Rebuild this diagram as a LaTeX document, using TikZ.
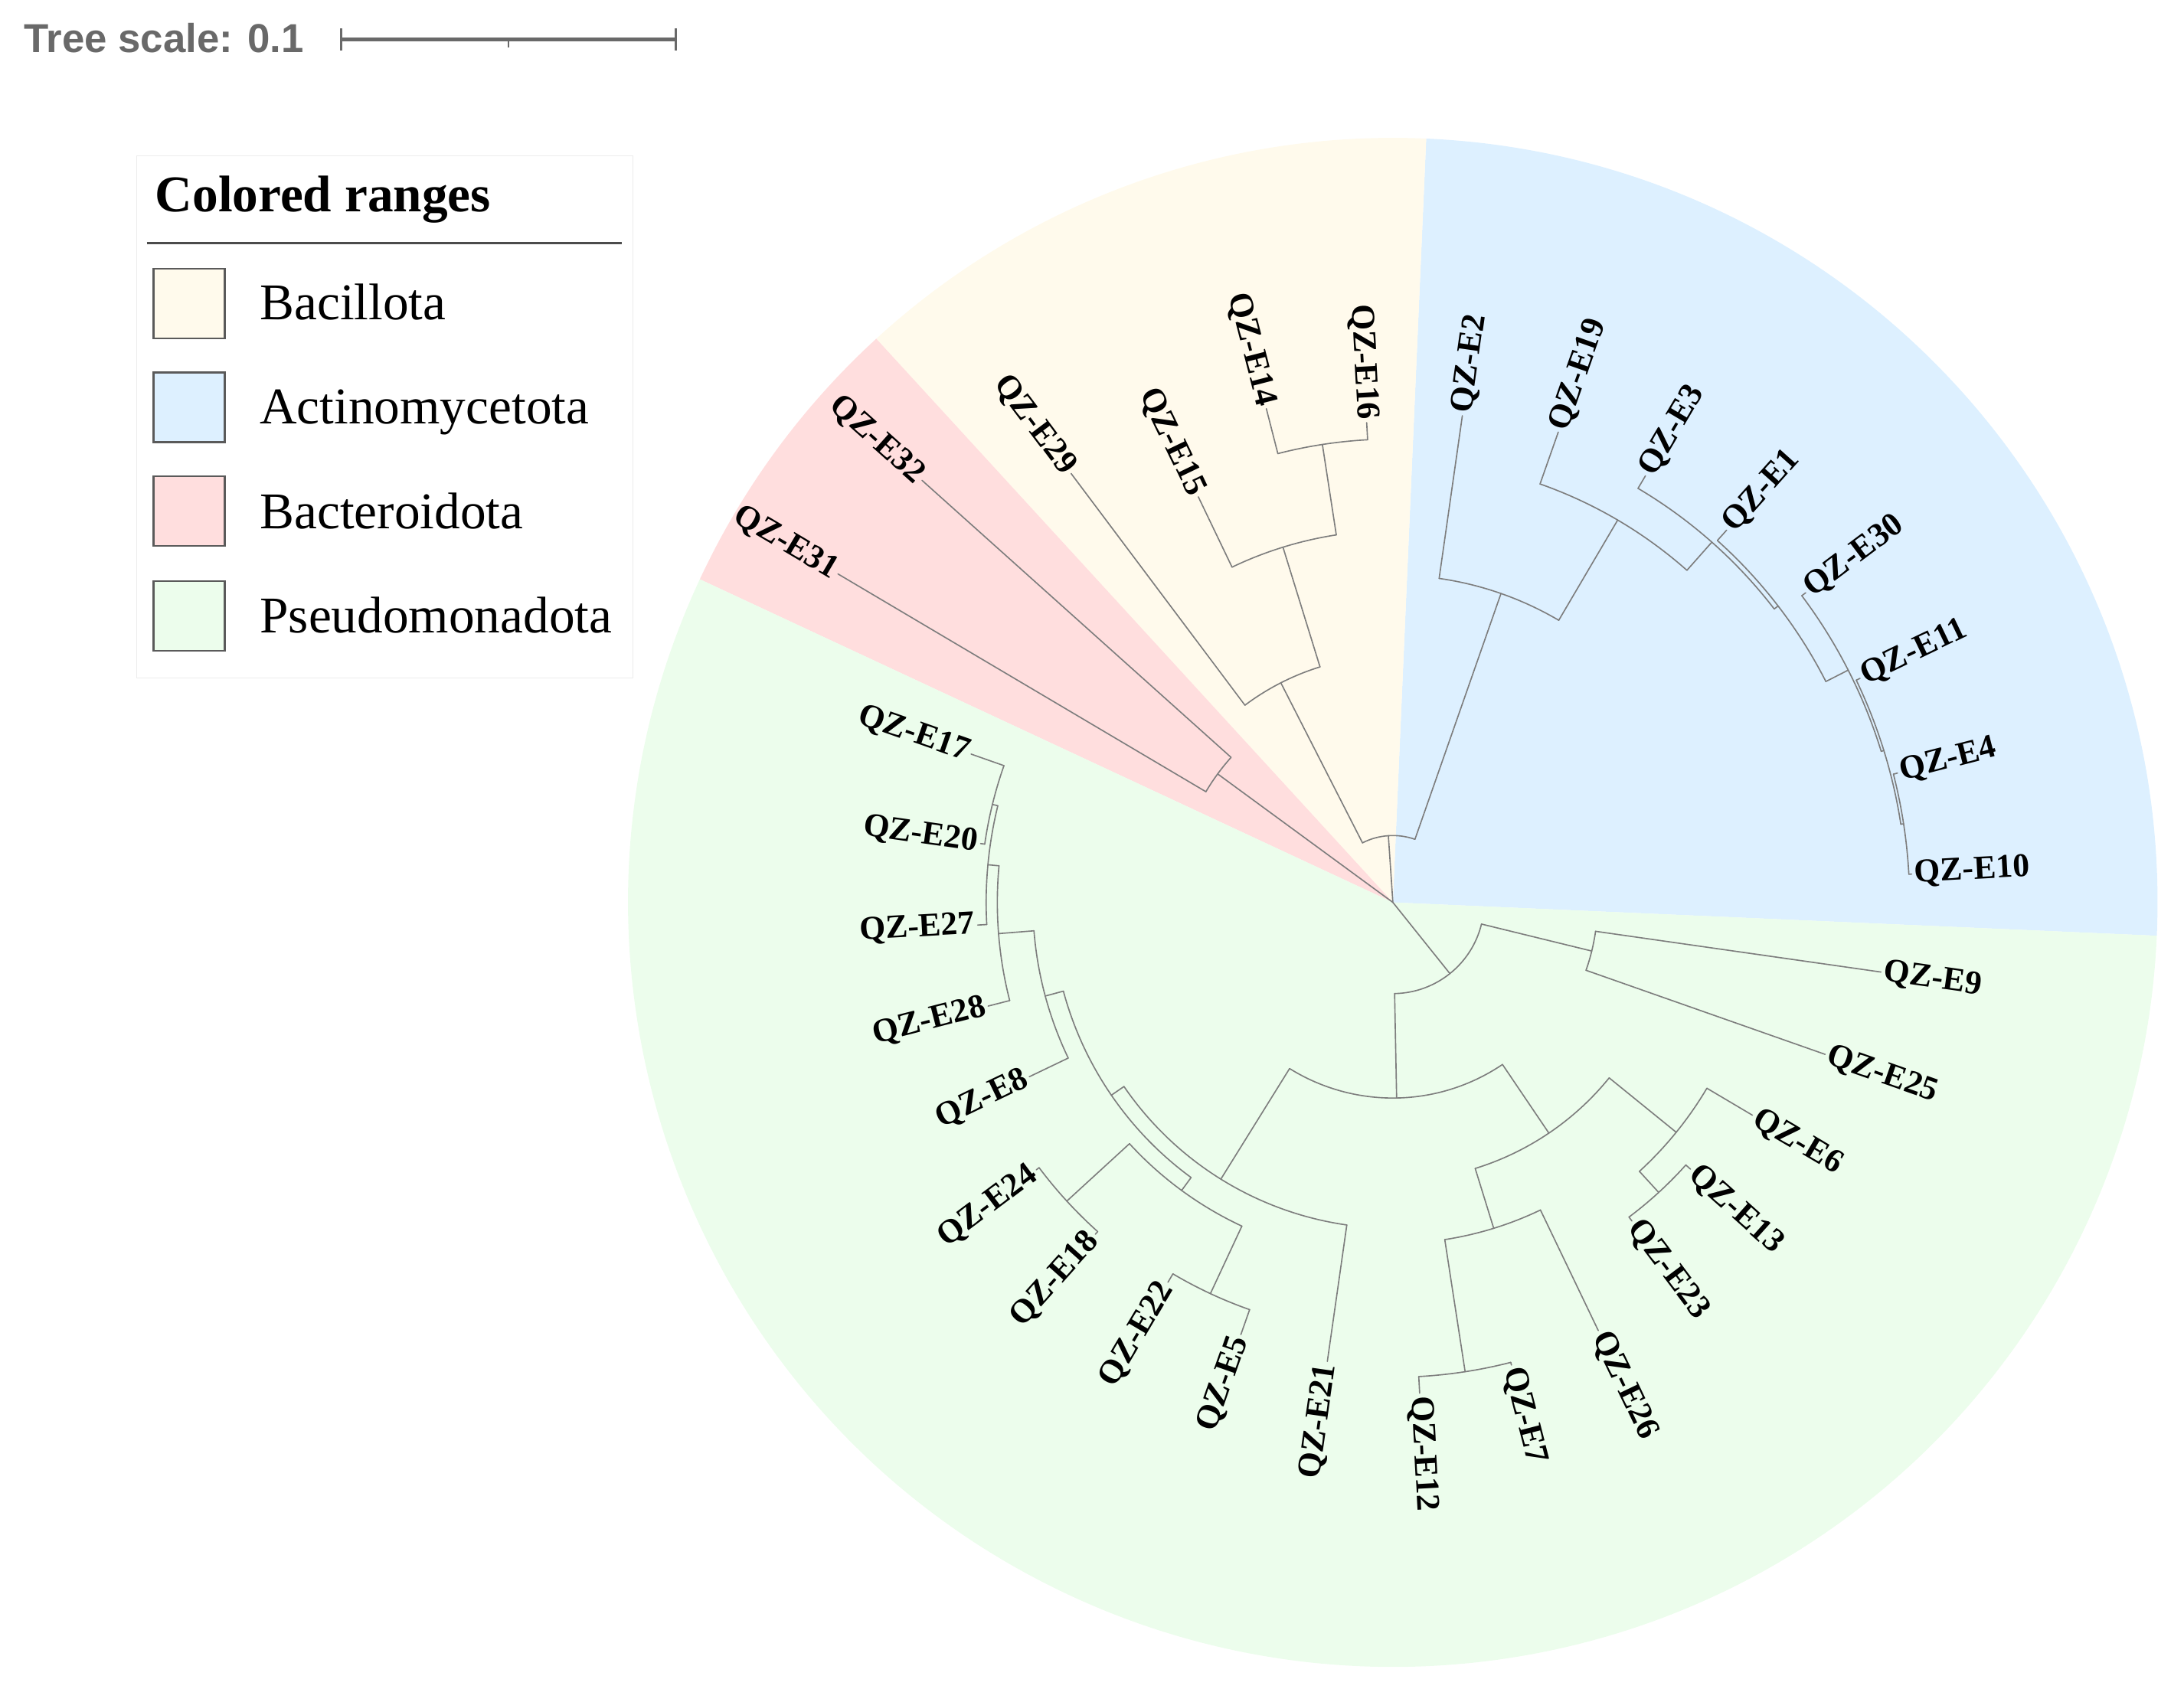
\documentclass[tikz,border=0pt]{standalone}
\usepackage{fontspec}
\setmainfont{Liberation Serif}
\newfontfamily\scalesans{Liberation Sans}
\definecolor{cBac}{RGB}{255,250,236}
\definecolor{cAct}{RGB}{221,240,255}
\definecolor{cBct}{RGB}{255,222,222}
\definecolor{cPse}{RGB}{236,253,236}
\definecolor{brc}{RGB}{125,125,125}
\definecolor{scol}{RGB}{105,105,105}
\definecolor{legb}{RGB}{236,236,236}
\definecolor{swb}{RGB}{90,90,90}
% internal node: name, angle, parent radius, radius, arc start, arc end
\newcommand\tnode[6]{%
  \coordinate (#1-f) at (#2:#3pt);
  \coordinate (#1) at (#2:#4pt);
  \coordinate (#1-a) at (#5:#4pt);
  \draw[br] (#1-f) -- (#1);
  \draw[br] (#1-a) arc[start angle=#5, end angle=#6, radius=#4pt];}
% leaf on right half: name, angle, parent radius, tip radius, text
\newcommand\tleafR[5]{%
  \coordinate (#1-f) at (#2:#3pt);
  \coordinate (#1) at (#2:#4pt);
  \draw[br] (#1-f) -- (#1);
  \node[lab, anchor=west, rotate=#2] (#1-l) at (#1) {#5};}
% leaf on left half
\newcommand\tleafL[5]{%
  \coordinate (#1-f) at (#2:#3pt);
  \coordinate (#1) at (#2:#4pt);
  \draw[br] (#1-f) -- (#1);
  \node[lab, anchor=east, rotate={#2-180}] (#1-l) at (#1) {#5};}
\begin{document}
\begin{tikzpicture}[x=1pt,y=1pt,
  br/.style={draw=brc, line width=0.9pt, line cap=round, line join=round},
  lab/.style={font=\fontsize{24}{24}\selectfont\bfseries, inner sep=2pt, text=black},
  sbar/.style={draw=scol, line width=2.4pt},
  swatch/.style={draw=swb, line width=1.2pt},
  legtext/.style={anchor=base west, inner sep=0pt, font=\fontsize{37}{37}\selectfont}]
\useasboundingbox (0,0) rectangle (1568,1222);

% ---------------- tree ----------------
\begin{scope}[shift={(1000,574)}]
  \coordinate (root) at (0,0);
  \fill[cAct] (root) -- (-2.5:549pt) arc[start angle=-2.5, end angle=87.5, radius=549pt] -- cycle;
  \fill[cBac] (root) -- (87.5:549pt) arc[start angle=87.5, end angle=132.5, radius=549pt] -- cycle;
  \fill[cBct] (root) -- (132.5:549pt) arc[start angle=132.5, end angle=155, radius=549pt] -- cycle;
  \fill[cPse] (root) -- (155:549pt) arc[start angle=155, end angle=357.5, radius=549pt] -- cycle;

  % Bacillota + Actinomycetota
  \tnode{CB}{93.87}{0}{48}{70.71}{117.03}
  \tnode{K0}{117.03}{48}{177}{107.19}{126.875}
  \tnode{K1}{107.19}{177}{267}{98.75}{115.625}
  \tnode{K2}{98.75}{267}{332.7}{93.125}{104.375}
  \tnode{B0}{70.71}{48}{235}{59.55}{81.875}
  \tnode{B1}{59.55}{235}{318.5}{48.48}{70.625}
  \tnode{B2}{48.48}{318.5}{345.5}{37.58}{59.375}
  \tnode{B3}{37.58}{345.5}{349}{27.03}{48.125}
  \tnode{B4}{27.03}{349}{367}{17.19}{36.875}
  \tnode{B5}{17.19}{367}{369}{8.75}{25.625}
  \tnode{B6}{8.75}{369}{371}{3.125}{14.375}
  % Bacteroidota
  \tnode{RD}{143.75}{0}{156}{138.125}{149.375}
  % Pseudomonadota
  \tnode{G}{308.68}{0}{65.5}{271.1}{346.25}
  \tnode{GR}{346.25}{65.5}{147}{340.625}{351.875}
  \tnode{GL}{271.1}{65.5}{140.5}{238.14}{304.06}
  \tnode{GLR}{304.06}{140.5}{200}{287.19}{320.94}
  \tnode{GLRa}{287.19}{200}{245}{278.75}{295.625}
  \tnode{GLRaa}{278.75}{245}{341}{273.125}{284.375}
  \tnode{GLRb}{320.94}{200}{262}{312.5}{329.375}
  \tnode{GLRba}{312.5}{262}{282.5}{306.875}{318.125}
  \tnode{GLL}{238.14}{140.5}{234}{214.41}{261.875}
  \tnode{X}{214.41}{234}{245}{195.08}{233.75}
  \tnode{XB}{233.75}{245}{256.5}{222.5}{245}
  \tnode{XBa}{222.5}{256.5}{317.5}{216.875}{228.125}
  \tnode{XBb}{245}{256.5}{310}{239.375}{250.625}
  \tnode{S}{195.08}{245}{258.5}{184.53}{205.625}
  \tnode{R}{184.53}{258.5}{284}{174.69}{194.375}
  \tnode{Q}{174.69}{284}{292}{166.25}{183.125}
  \tnode{P}{166.25}{292}{296}{160.625}{171.875}

  % leaves
  \tleafR{E10}{3.125}{371}{373}{QZ-E10}
  \tleafR{E4}{14.375}{371}{374}{QZ-E4}
  \tleafR{E11}{25.625}{369}{372}{QZ-E11}
  \tleafR{E30}{36.875}{367}{370.5}{QZ-E30}
  \tleafR{E1}{48.125}{349}{359}{QZ-E1}
  \tleafR{E3}{59.375}{345.5}{356}{QZ-E3}
  \tleafR{E19}{70.625}{318.5}{358}{QZ-E19}
  \tleafR{E2}{81.875}{235}{353}{QZ-E2}
  \tleafL{E16}{93.125}{332.7}{345}{QZ-E16}
  \tleafL{E14}{104.375}{332.7}{366}{QZ-E14}
  \tleafL{E15}{115.625}{267}{323}{QZ-E15}
  \tleafL{E29}{126.875}{177}{385}{QZ-E29}
  \tleafL{E32}{138.125}{156}{454}{QZ-E32}
  \tleafL{E31}{149.375}{156}{463}{QZ-E31}
  \tleafL{E17}{160.625}{296}{321}{QZ-E17}
  \tleafL{E20}{171.875}{296}{299}{QZ-E20}
  \tleafL{E27}{183.125}{292}{298.5}{QZ-E27}
  \tleafL{E28}{194.375}{284}{300}{QZ-E28}
  \tleafL{E8}{205.625}{258.5}{289.5}{QZ-E8}
  \tleafL{E24}{216.875}{317.5}{320}{QZ-E24}
  \tleafL{E18}{228.125}{317.5}{320}{QZ-E18}
  \tleafL{E22}{239.375}{310}{317}{QZ-E22}
  \tleafL{E5}{250.625}{310}{329}{QZ-E5}
  \tleafL{E21}{261.875}{234}{333}{QZ-E21}
  \tleafR{E12}{273.125}{341}{353}{QZ-E12}
  \tleafR{E7}{284.375}{341}{343}{QZ-E7}
  \tleafR{E26}{295.625}{245}{341}{QZ-E26}
  \tleafR{E23}{306.875}{282.5}{286}{QZ-E23}
  \tleafR{E13}{318.125}{282.5}{287}{QZ-E13}
  \tleafR{E6}{329.375}{262}{300}{QZ-E6}
  \tleafR{E25}{340.625}{147}{329}{QZ-E25}
  \tleafR{E9}{351.875}{147}{354}{QZ-E9}
\end{scope}

% ---------------- tree scale ----------------
\node[anchor=west, inner sep=0pt, text=scol, font=\scalesans\bfseries\fontsize{29}{29}\selectfont] (ts) at (17,1194.5) {Tree scale: 0.1};
\coordinate (sbL) at (245,1193.6);
\coordinate (sbM) at (365,1193.6);
\coordinate (sbR) at (485,1193.6);
\draw[sbar] (sbL) -- (sbR);
\draw[draw=scol, line width=1.8pt] ([yshift=-8]sbL) -- ([yshift=8]sbL);
\draw[draw=scol, line width=1.8pt] ([yshift=-8]sbR) -- ([yshift=8]sbR);
\draw[draw=scol, line width=1.2pt] ([yshift=-5.5]sbM) -- (sbM);

% ---------------- legend ----------------
\draw[draw=legb, line width=0.8pt, fill=white] (98,1110) rectangle (454.5,735);
\node[anchor=base west, inner sep=0pt, font=\bfseries\fontsize{37}{37}\selectfont] (lt) at (111.3,1069.7) {Colored ranges};
\draw[draw=black!70, line width=1.3pt] (105.4,1047.4) -- (446.4,1047.4);
\draw[swatch, fill=cBac] (110.2,1029) rectangle (161.4,979);
\draw[swatch, fill=cAct] (110.2,954.5) rectangle (161.4,904.5);
\draw[swatch, fill=cBct] (110.2,880) rectangle (161.4,830);
\draw[swatch, fill=cPse] (110.2,804.5) rectangle (161.4,754.5);
\node[legtext] (l1) at (186.4,992.6) {Bacillota};
\node[legtext] (l2) at (186.4,917.6) {Actinomycetota};
\node[legtext] (l3) at (186.4,842.6) {Bacteroidota};
\node[legtext] (l4) at (186.4,767.6) {Pseudomonadota};
\end{tikzpicture}
\end{document}
